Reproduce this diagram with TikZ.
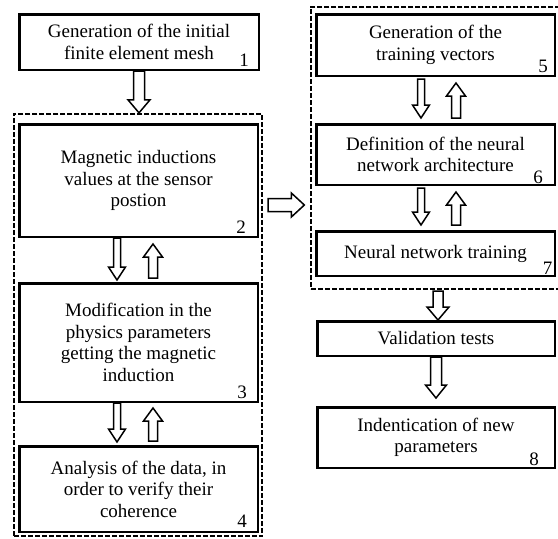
\documentclass[tikz,border=0pt]{standalone}
\usepackage{fontspec}
\setmainfont{Liberation Serif}
\usetikzlibrary{calc, positioning}
\tikzstyle{process} = [rectangle, draw=black, line width=2.5pt, minimum width=238.5pt, align=center, inner sep=2pt]
\tikzstyle{group} = [rectangle, draw=black, line width=1.8pt, dash pattern=on 5pt off 2pt]
\tikzstyle{numtag} = [anchor=south east, inner sep=0pt]
\tikzstyle{blockarrow} = [draw=black, line width=1.5pt, line join=miter]

% hollow block arrow: shaft half width, head half width, from, to
\newcommand{\hollowarrow}[4]{%
  \coordinate (ah) at ($(#4)!13pt!(#3)$);
  \draw[blockarrow] ($(#3)!#1!90:(#4)$) -- ($(ah)!#1!90:(#4)$) -- ($(ah)!#2!90:(#4)$) -- (#4)
    -- ($(ah)!#2!-90:(#4)$) -- ($(ah)!#1!-90:(#4)$) -- ($(#3)!#1!-90:(#4)$) -- cycle;}

\begin{document}
\begin{tikzpicture}[x=1pt, y=-1pt, font=\fontsize{19pt}{21.5pt}\selectfont]
\useasboundingbox (0,0) rectangle (558,539);

% left column
\node (b1) [process, minimum width=239.5pt, minimum height=55.5pt] at (139,42) {Generation of the initial\\finite element mesh};
\node (grpL) [group, minimum width=248.5pt, minimum height=422.5pt] at (138,325) {};
\node (b2) [process, minimum height=112.5pt] at (138.5,180.5) {Magnetic inductions\\values at the sensor\\postion};
\node (b3) [process, minimum height=118.5pt] at (138.5,342.5) {Modification in the\\physics parameters\\getting the magnetic\\induction};
\node (b4) [process, minimum height=85.5pt] at (138.5,489) {Analysis of the data, in\\order to verify their\\coherence};

% right column
\node (grpR) [group, minimum width=249.5pt, minimum height=282.5pt] at (435.5,148) {};
\node (b5) [process, minimum height=61.5pt] at (435.5,45) {Generation of the\\training vectors};
\node (b6) [process, minimum height=60.5pt] at (435.5,154.5) {Definition of the neural\\network architecture};
\node (b7) [process, minimum height=44.5pt] at (435.5,253.5) {Neural network training};
\node (val) [process, minimum width=237.5pt, minimum height=34.5pt] at (436,338.5) {Validation tests};
\node (b8) [process, minimum width=237.5pt, minimum height=60.5pt] at (436,437.5) {Indentication of new\\parameters};

% step numbers
\node (n1) [numtag] at ($(b1.south east)+(-11,-4)$) {1};
\node (n2) [numtag] at ($(b2.south east)+(-13,-4)$) {2};
\node (n3) [numtag] at ($(b3.south east)+(-12,-4)$) {3};
\node (n4) [numtag] at ($(b4.south east)+(-12,-5)$) {4};
\node (n5) [numtag] at ($(b5.south east)+(-8,-4)$) {5};
\node (n6) [numtag] at ($(b6.south east)+(-13,-2)$) {6};
\node (n7) [numtag] at ($(b7.south east)+(-3.5,-2.5)$) {7};
\node (n8) [numtag] at ($(b8.south east)+(-17,-3)$) {8};

% arrow ends
\coordinate (a1e) at (b1.south |- grpL.north);
\coordinate (d23s) at ($(b2.south)+(-21.5,0)$);
\coordinate (d23e) at ($(b3.north)+(-21.5,-2)$);
\coordinate (u32s) at ($(b3.north)+(14.5,-4)$);
\coordinate (u32e) at ($(b2.south)+(14.5,6)$);
\coordinate (d34s) at ($(b3.south)+(-21.5,0)$);
\coordinate (d34e) at ($(b4.north)+(-21.5,-3)$);
\coordinate (u43s) at ($(b4.north)+(14.5,-4)$);
\coordinate (u43e) at ($(b3.south)+(14.5,5)$);
\coordinate (d56s) at ($(b5.south)+(-14.5,2)$);
\coordinate (d56e) at ($(b6.north)+(-14.5,-5)$);
\coordinate (u65s) at ($(b6.north)+(20.5,-5)$);
\coordinate (u65e) at ($(b5.south)+(20.5,6)$);
\coordinate (d67s) at ($(b6.south)+(-14.5,2)$);
\coordinate (d67e) at ($(b7.north)+(-14.5,-5)$);
\coordinate (u76s) at ($(b7.north)+(20.5,-5)$);
\coordinate (u76e) at ($(b6.south)+(20.5,6)$);
\coordinate (hs) at ($(grpL.east)+(5,-120)$);
\coordinate (he) at ($(grpR.west)+(-5.5,57)$);
\coordinate (vs) at ($(grpR.south)+(2.5,1)$);
\coordinate (ve) at (vs |- val.north);
\coordinate (we) at ($(b8.north)+(0,-8)$);

\hollowarrow{5.5pt}{11pt}{b1.south}{a1e}
\hollowarrow{3.5pt}{8.5pt}{d23s}{d23e}
\hollowarrow{4.5pt}{9.5pt}{u32s}{u32e}
\hollowarrow{3.5pt}{8.5pt}{d34s}{d34e}
\hollowarrow{4.5pt}{9.5pt}{u43s}{u43e}
\hollowarrow{3.5pt}{8.5pt}{d56s}{d56e}
\hollowarrow{4.5pt}{9.5pt}{u65s}{u65e}
\hollowarrow{3.5pt}{8.5pt}{d67s}{d67e}
\hollowarrow{4.5pt}{9.5pt}{u76s}{u76e}
\hollowarrow{6.5pt}{12pt}{hs}{he}
\hollowarrow{5pt}{11pt}{vs}{ve}
\hollowarrow{5.5pt}{10.5pt}{val.south}{we}
\end{tikzpicture}
\end{document}
